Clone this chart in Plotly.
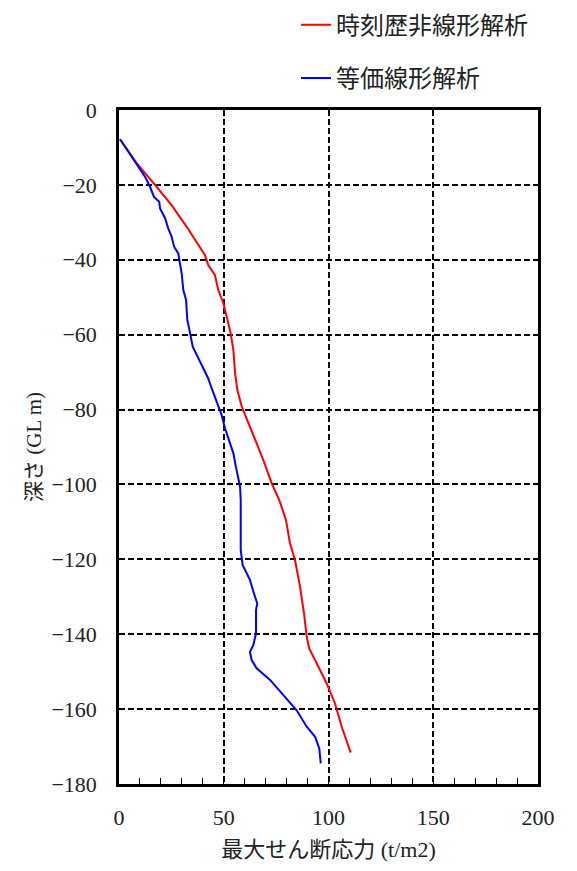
import plotly.graph_objects as go

# 時刻歴非線形解析 (red)
red_x = [0.5, 8.4, 17.2, 25.1, 32.3, 41.0, 42.6, 45.8, 47.4, 49.8, 52.2, 53.3, 54.6,
         55.4, 56.5, 58.6, 65.7, 68.9, 72.9, 76.5, 79.7, 81.6, 84.0, 86.4, 88.3, 89.6,
         90.8, 95.1, 99.1, 103.1, 106.3, 110.6]
red_y = [-7.8, -14.2, -20.0, -25.4, -31.2, -38.7, -41.4, -44.1, -48.1, -51.6, -57.0, -59.7, -64.1,
         -70.3, -74.8, -79.2, -89.0, -93.5, -99.7, -104.2, -109.5, -115.7, -120.2, -127.3, -134.4, -140.7,
         -143.8, -148.7, -153.1, -158.5, -164.7, -171.6]

# 等価線形解析 (blue)
blue_x = [0.5, 2.9, 5.3, 6.8, 10.0, 12.4, 14.8, 16.7, 19.2, 19.6, 22.0, 23.5, 25.1, 26.3, 28.3,
          29.9, 30.7, 32.0, 32.6, 33.1, 33.9, 35.2, 38.7, 42.6, 44.2, 45.8, 47.4, 49.0, 50.6,
          53.0, 54.6, 55.8, 56.9, 57.8, 58.1, 58.1, 59.0, 62.5, 64.4, 66.0, 65.4, 65.4, 64.1,
          62.5, 63.3, 65.7, 72.1, 80.0, 84.8, 89.6, 93.6, 95.6, 96.3]
blue_y = [-7.8, -9.8, -12.0, -13.4, -16.0, -17.8, -20.5, -23.2, -24.5, -26.3, -28.9, -31.6, -33.8, -36.5, -38.3,
          -43.6, -48.1, -50.7, -56.0, -57.9, -59.6, -63.2, -67.2, -71.7, -74.3, -76.6, -79.2, -81.5, -85.0,
          -89.0, -91.7, -95.3, -97.9, -100.6, -104.2, -117.5, -121.5, -125.5, -129.1, -131.8, -133.5, -139.8, -142.9,
          -144.7, -146.9, -149.1, -152.2, -157.1, -160.3, -164.7, -167.4, -170.5, -174.5]

x_ticks = [0, 50, 100, 150, 200]
y_ticks = [0, -20, -40, -60, -80, -100, -120, -140, -160, -180]
y_tick_text = ["0" if v == 0 else "\u2212" + str(-v) for v in y_ticks]

FONT = "Liberation Serif, Noto Sans CJK JP, serif"
TXT = "#222222"

fig = go.Figure()
fig.add_trace(go.Scatter(x=red_x, y=red_y, mode="lines", name="時刻歴非線形解析",
                         line=dict(color="#ff0000", width=2), legendgroup="a"))
fig.add_trace(go.Scatter(x=blue_x, y=blue_y, mode="lines", name="等価線形解析",
                         line=dict(color="#0000ff", width=2), legendgroup="b"))

fig.update_layout(
    width=577, height=871,
    margin=dict(l=119, r=39, t=110, b=87, autoexpand=False),
    paper_bgcolor="white", plot_bgcolor="white",
    font=dict(family=FONT, size=22, color=TXT),
    showlegend=True,
    legend=dict(x=0.4224, y=0.997, xanchor="left", yanchor="top", yref="container",
                font=dict(size=24, family=FONT, color=TXT),
                tracegroupgap=19, bgcolor="rgba(0,0,0,0)"),
    xaxis=dict(range=[0, 200], tickvals=x_ticks, showline=True, linecolor="black", linewidth=2.5,
               mirror=True, showgrid=True, gridcolor="black", griddash="6px,3px", gridwidth=1.5,
               ticks="inside", ticklen=7, tickcolor="black", tickwidth=1.3,
               minor=dict(dtick=10, ticks="inside", ticklen=6, tickcolor="black", tickwidth=1.3, showgrid=False),
               zeroline=False, ticklabelstandoff=12, tickfont=dict(size=22),
               title=dict(text="最大せん断応力 (t/m2)", font=dict(size=22), standoff=13)),
    yaxis=dict(range=[-180, 0], tickvals=y_ticks, ticktext=y_tick_text, showline=True, linecolor="black",
               linewidth=2.5, mirror=True, showgrid=True, gridcolor="black", griddash="6px,3px", gridwidth=1.5,
               ticks="", zeroline=False, ticklabelstandoff=15, tickfont=dict(size=22),
               title=dict(text="深さ (GL m)", font=dict(size=21), standoff=5)),
)

fig.write_html("out.html")
